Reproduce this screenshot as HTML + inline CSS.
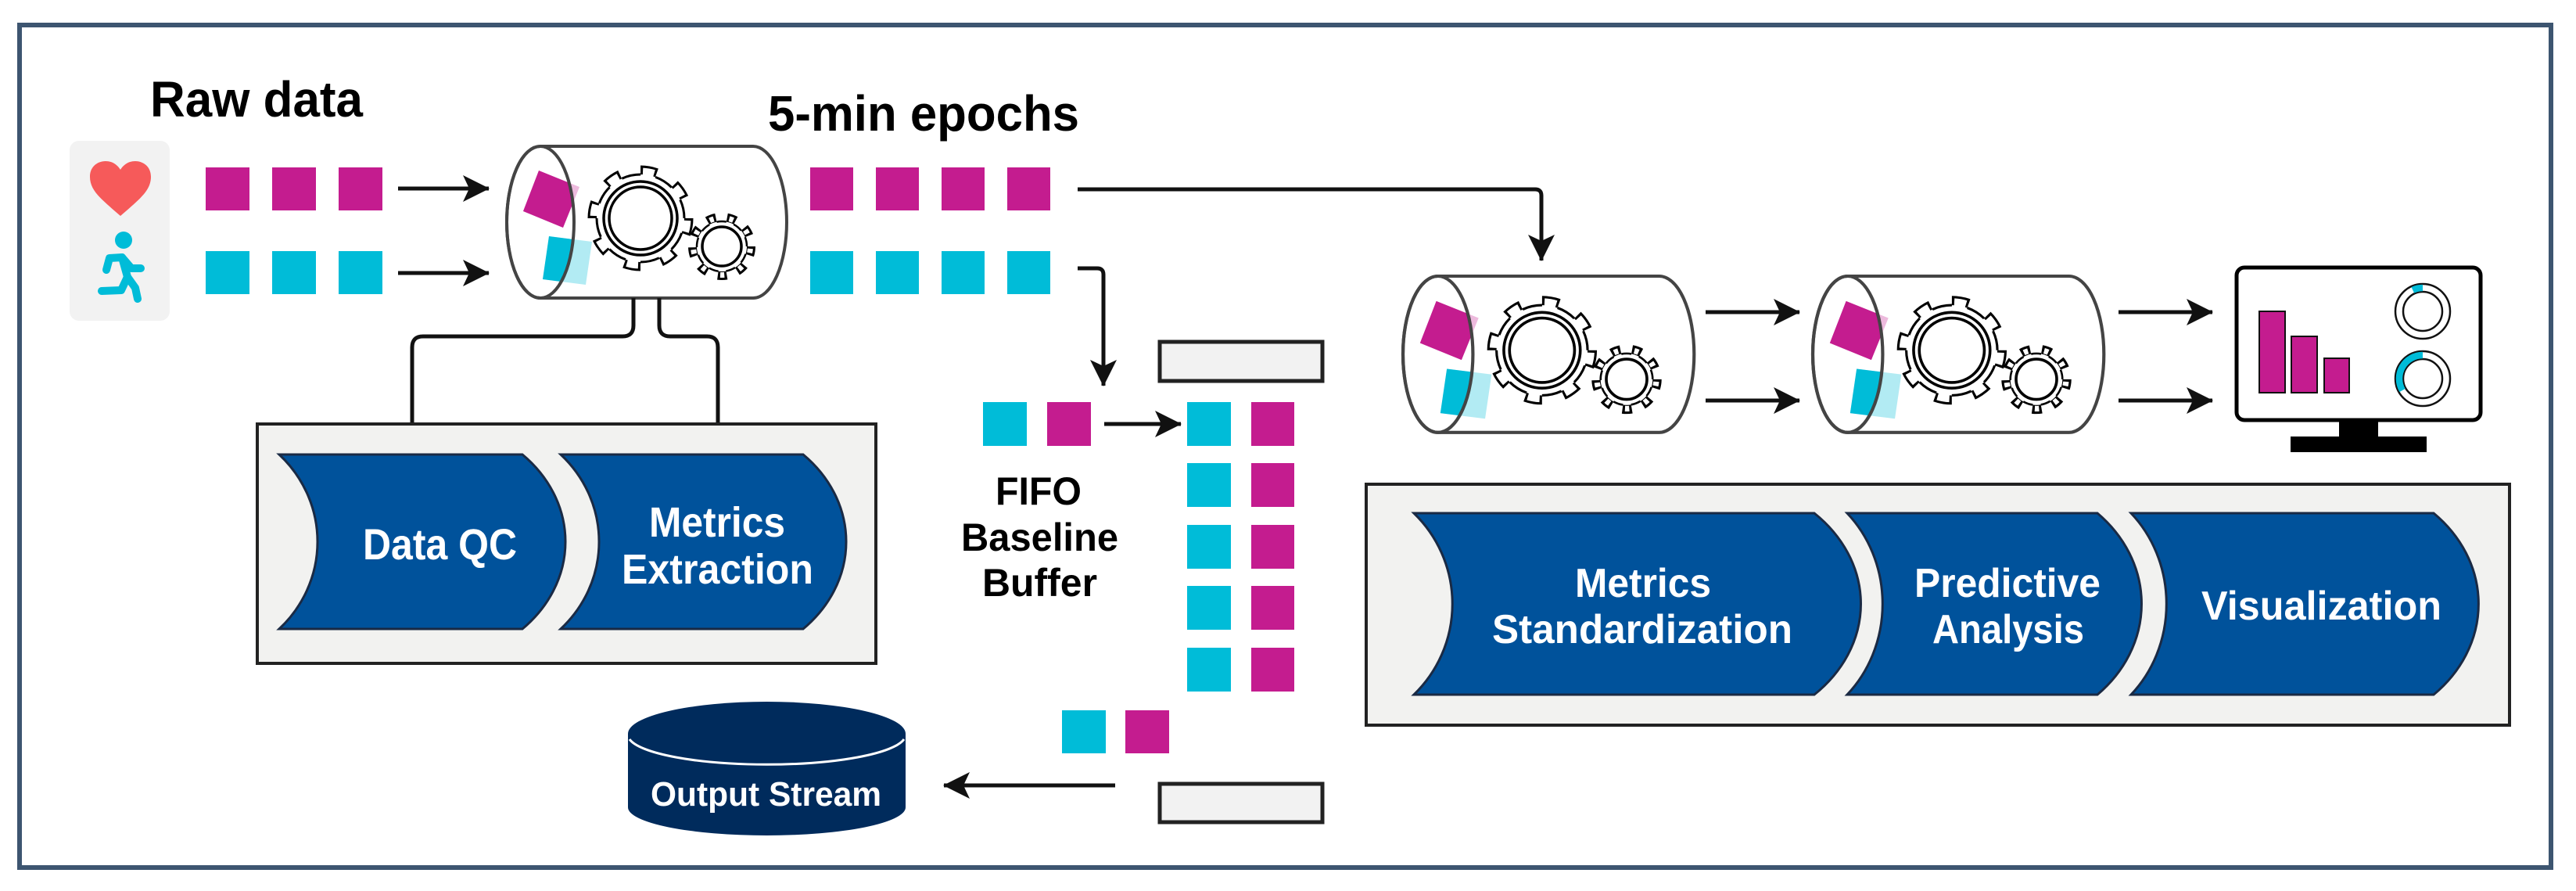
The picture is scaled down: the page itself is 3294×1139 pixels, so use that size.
<!DOCTYPE html>
<html><head><meta charset="utf-8"><style>
html,body{margin:0;padding:0;background:#fff;}
svg{display:block;}
text{font-family:"Liberation Sans",sans-serif;font-weight:bold;}
</style></head><body>
<svg width="3294" height="1139" viewBox="0 0 3294 1139" xmlns="http://www.w3.org/2000/svg">
<defs>
<marker id="ah" viewBox="0 -18 34 36" refX="33" refY="0" markerWidth="34" markerHeight="36" markerUnits="userSpaceOnUse" orient="auto">
<path d="M0,-17 L34,0 L0,17 L8,0 Z" fill="#111"/>
</marker>
<clipPath id="lc"><ellipse cx="43" cy="97" rx="43" ry="97"/></clipPath>
<g id="gearB">
<circle r="61" fill="none" stroke="#000" stroke-width="13" stroke-dasharray="21 26.9"/>
<circle r="56" fill="#fff"/>
<circle r="60" fill="none" stroke="#fff" stroke-width="9" stroke-dasharray="14.66 32.46" stroke-dashoffset="-3"/>
<circle r="56" fill="none" stroke="#000" stroke-width="3" stroke-dasharray="0 19.28 24.7 0"/>
<circle r="47" fill="none" stroke="#000" stroke-width="3.5"/>
<circle r="40" fill="none" stroke="#000" stroke-width="3.5"/>
</g>
<g id="gearS">
<circle r="37" fill="none" stroke="#000" stroke-width="12" stroke-dasharray="11.5 14.33"/>
<circle r="32" fill="#fff"/>
<circle r="36.5" fill="none" stroke="#fff" stroke-width="7" stroke-dasharray="5.34 20.14" stroke-dashoffset="-3"/>
<circle r="32" fill="none" stroke="#000" stroke-width="2.5" stroke-dasharray="0 9.95 12.39 0"/>
<circle r="25" fill="none" stroke="#000" stroke-width="3.5"/>
</g>
<g id="cyl">
<path d="M43,0 H315 A43,97 0 0 1 315,194 H43 A43,97 0 0 1 43,0 Z" fill="#fff" stroke="#444" stroke-width="4"/>
<polygon points="41,31 93,52 72,104 21,83" fill="#c41c8f" opacity="0.3"/>
<polygon points="54,115 109,122 101,177 46,170" fill="#00bcd8" opacity="0.3"/>
<g clip-path="url(#lc)">
<polygon points="41,31 93,52 72,104 21,83" fill="#c41c8f"/>
<polygon points="54,115 109,122 101,177 46,170" fill="#00bcd8"/>
</g>
<ellipse cx="43" cy="97" rx="43" ry="97" fill="none" stroke="#444" stroke-width="4"/>
<use href="#gearB" x="171" y="92"/>
<use href="#gearS" x="275" y="128"/>
</g>
</defs>

<rect x="25" y="32" width="3237" height="1077" fill="#fff" stroke="#3d5570" stroke-width="6"/>

<text x="192" y="149" font-size="64" textLength="272" lengthAdjust="spacingAndGlyphs" fill="#000">Raw data</text>
<text x="982" y="167" font-size="64" textLength="398" lengthAdjust="spacingAndGlyphs" fill="#000">5-min epochs</text>

<rect x="89" y="180" width="128" height="230" rx="12" fill="#f2f2f2"/>
<path d="M154,276 C130,255 115,244 115,226 C115,212 126,206 135,206 C145,206 151,212 154,217 C157,212 163,206 173,206 C182,206 193,212 193,226 C193,244 178,255 154,276 Z" fill="#f65a5a"/>
<g stroke="#00bcd8" stroke-width="10" stroke-linecap="round" stroke-linejoin="round" fill="none">
<circle cx="158" cy="307" r="11" fill="#00bcd8" stroke="none"/>
<polyline points="136,345 140,330 156,329 168,343 180,343"/>
<polyline points="156,329 163,354 173,368 176,382"/>
<polyline points="163,354 155,371 130,372"/>
</g>

<g fill="#c41c8f">
<rect x="263" y="214" width="56" height="55"/><rect x="348" y="214" width="56" height="55"/><rect x="433" y="214" width="56" height="55"/>
</g>
<g fill="#00bcd8">
<rect x="263" y="321" width="56" height="55"/><rect x="348" y="321" width="56" height="55"/><rect x="433" y="321" width="56" height="55"/>
</g>
<g stroke="#111" stroke-width="5" fill="none" marker-end="url(#ah)">
<line x1="509" y1="241" x2="625" y2="241"/>
<line x1="509" y1="349" x2="625" y2="349"/>
</g>

<use href="#cyl" x="648" y="187"/>

<g fill="#c41c8f">
<rect x="1036" y="214" width="55" height="55"/><rect x="1120" y="214" width="55" height="55"/><rect x="1204" y="214" width="55" height="55"/><rect x="1288" y="214" width="55" height="55"/>
</g>
<g fill="#00bcd8">
<rect x="1036" y="321" width="55" height="55"/><rect x="1120" y="321" width="55" height="55"/><rect x="1204" y="321" width="55" height="55"/><rect x="1288" y="321" width="55" height="55"/>
</g>

<g stroke="#111" stroke-width="5" fill="none">
<path d="M1378,242 H1963 Q1971,242 1971,250 V333" marker-end="url(#ah)"/>
<path d="M1378,343 H1403 Q1411,343 1411,351 V493" marker-end="url(#ah)"/>
<line x1="1412" y1="542" x2="1510" y2="542" marker-end="url(#ah)"/>
<line x1="1426" y1="1004" x2="1207" y2="1004" marker-end="url(#ah)"/>
<line x1="2181" y1="399" x2="2301" y2="399" marker-end="url(#ah)"/>
<line x1="2181" y1="512" x2="2301" y2="512" marker-end="url(#ah)"/>
<line x1="2709" y1="399" x2="2829" y2="399" marker-end="url(#ah)"/>
<line x1="2709" y1="512" x2="2829" y2="512" marker-end="url(#ah)"/>
<path d="M810,381 V416 Q810,430 796,430 H541 Q527,430 527,444 V542"/>
<path d="M843,381 V416 Q843,430 857,430 H904 Q918,430 918,444 V542"/>
</g>

<rect x="329" y="542" width="791" height="306" fill="#f2f2f0" stroke="#222" stroke-width="4"/>
<path d="M357,581 H668 A183,156 0 0 1 668,804 H357 A163,156 0 0 0 357,581 Z" fill="#00529b" stroke="#1a2a44" stroke-width="3"/>
<path d="M717,581 H1027 A183,156 0 0 1 1027,804 H717 A163,156 0 0 0 717,581 Z" fill="#00529b" stroke="#1a2a44" stroke-width="3"/>
<text x="464" y="715" font-size="56" textLength="197" lengthAdjust="spacingAndGlyphs" fill="#fff">Data QC</text>
<text x="830" y="686" font-size="54" textLength="174" lengthAdjust="spacingAndGlyphs" fill="#fff">Metrics</text>
<text x="795" y="746" font-size="54" textLength="245" lengthAdjust="spacingAndGlyphs" fill="#fff">Extraction</text>

<rect x="1483" y="437" width="208" height="50" fill="#f2f2f2" stroke="#222" stroke-width="5"/>
<rect x="1483" y="1002" width="208" height="49" fill="#f2f2f2" stroke="#222" stroke-width="5"/>
<rect x="1257" y="514" width="56" height="56" fill="#00bcd8"/>
<rect x="1339" y="514" width="56" height="56" fill="#c41c8f"/>
<g fill="#00bcd8">
<rect x="1518" y="514" width="56" height="56"/><rect x="1518" y="592" width="56" height="56"/><rect x="1518" y="671" width="56" height="56"/><rect x="1518" y="749" width="56" height="56"/><rect x="1518" y="828" width="56" height="56"/>
</g>
<g fill="#c41c8f">
<rect x="1600" y="514" width="55" height="56"/><rect x="1600" y="592" width="55" height="56"/><rect x="1600" y="671" width="55" height="56"/><rect x="1600" y="749" width="55" height="56"/><rect x="1600" y="828" width="55" height="56"/>
</g>
<rect x="1358" y="908" width="56" height="55" fill="#00bcd8"/>
<rect x="1439" y="908" width="56" height="55" fill="#c41c8f"/>
<text x="1273" y="645" font-size="50" textLength="110" lengthAdjust="spacingAndGlyphs" fill="#000">FIFO</text>
<text x="1229" y="704" font-size="50" textLength="201" lengthAdjust="spacingAndGlyphs" fill="#000">Baseline</text>
<text x="1256" y="762" font-size="50" textLength="147" lengthAdjust="spacingAndGlyphs" fill="#000">Buffer</text>

<path d="M803,938 V1032 A177.5,36 0 0 0 1158,1032 V938 Z" fill="#002b5c"/>
<ellipse cx="980.5" cy="938" rx="177.5" ry="41" fill="#002b5c"/>
<path d="M805,945 A177.5,38 0 0 0 1156,945" fill="none" stroke="#fff" stroke-width="3"/>
<text x="832" y="1030" font-size="44" textLength="295" lengthAdjust="spacingAndGlyphs" fill="#fff">Output Stream</text>

<g transform="translate(1794,353) scale(1.04,1.03)"><use href="#cyl"/></g>
<g transform="translate(2318,353) scale(1.04,1.03)"><use href="#cyl"/></g>

<rect x="2860" y="342" width="312" height="195" rx="10" fill="#fff" stroke="#000" stroke-width="5"/>
<rect x="2991" y="537" width="50" height="22" fill="#000"/>
<rect x="2929" y="558" width="174" height="20" fill="#000"/>
<rect x="2889" y="398" width="33" height="104" fill="#c41c8f" stroke="#111" stroke-width="2"/>
<rect x="2930" y="430" width="33" height="72" fill="#c41c8f" stroke="#111" stroke-width="2"/>
<rect x="2972" y="458" width="32" height="44" fill="#c41c8f" stroke="#111" stroke-width="2"/>
<g fill="none" stroke="#111" stroke-width="2.5">
<circle cx="3098" cy="398" r="35"/><circle cx="3098" cy="398" r="25"/>
<circle cx="3098" cy="484" r="35"/><circle cx="3098" cy="484" r="25"/>
</g>
<path d="M3098,368 A30,30 0 0 0 3085.3,370.8" fill="none" stroke="#00bcd8" stroke-width="8.5"/>
<path d="M3098,454 A30,30 0 0 0 3072,499" fill="none" stroke="#00bcd8" stroke-width="8.5"/>

<rect x="1747" y="619" width="1462" height="308" fill="#f2f2f0" stroke="#222" stroke-width="4"/>
<path d="M1808,656 H2320 A197,162 0 0 1 2320,888 H1808 A163,162 0 0 0 1808,656 Z" fill="#00529b" stroke="#1a2a44" stroke-width="3"/>
<path d="M2362,656 H2682 A187,162 0 0 1 2682,888 H2362 A150,162 0 0 0 2362,656 Z" fill="#00529b" stroke="#1a2a44" stroke-width="3"/>
<path d="M2725,656 H3112 A190,162 0 0 1 3112,888 H2725 A150,162 0 0 0 2725,656 Z" fill="#00529b" stroke="#1a2a44" stroke-width="3"/>
<text x="2014" y="763" font-size="52" textLength="174" lengthAdjust="spacingAndGlyphs" fill="#fff">Metrics</text>
<text x="1908" y="822" font-size="52" textLength="384" lengthAdjust="spacingAndGlyphs" fill="#fff">Standardization</text>
<text x="2448" y="763" font-size="52" textLength="238" lengthAdjust="spacingAndGlyphs" fill="#fff">Predictive</text>
<text x="2471" y="822" font-size="52" textLength="194" lengthAdjust="spacingAndGlyphs" fill="#fff">Analysis</text>
<text x="2815" y="792" font-size="52" textLength="307" lengthAdjust="spacingAndGlyphs" fill="#fff">Visualization</text>
</svg>
</body></html>
